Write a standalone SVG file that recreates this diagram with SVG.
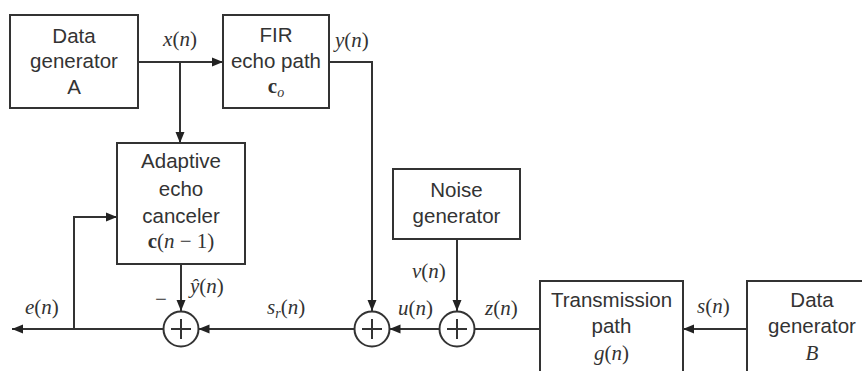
<svg xmlns="http://www.w3.org/2000/svg" width="862" height="371" viewBox="0 0 862 371">
<style>
.box{fill:#fff;stroke:#333;stroke-width:2}
.ln{fill:none;stroke:#333;stroke-width:2}
.arr{marker-end:url(#ah)}
.t{font-family:"Liberation Sans",Arial,sans-serif;font-size:20.5px;fill:#333;text-anchor:middle}
.m{font-family:"Liberation Serif","Times New Roman",serif;font-size:21px;fill:#333;font-style:italic}
.mc{text-anchor:middle}
.b{font-weight:bold;font-style:normal}
.r{font-style:normal}
.sum circle{fill:#fff;stroke:#333;stroke-width:2}
</style>
<defs>
<marker id="ah" markerUnits="userSpaceOnUse" markerWidth="11" markerHeight="10" refX="11" refY="5" orient="auto">
<path d="M0,0.5 L11,5 L0,9.5 z" fill="#222"/>
</marker>
</defs>
<rect width="862" height="371" fill="#fff"/>
<g id="connectors">
<path class="ln arr" d="M138,62 H223"/>
<path class="ln arr" d="M180,62 V143"/>
<path class="ln arr" d="M329,62 H372 V311"/>
<path class="ln arr" d="M181,264 V311"/>
<path class="ln arr" d="M457,239 V311"/>
<path class="ln arr" d="M747,329 H683"/>
<path class="ln" d="M540,329 H474.5"/>
<path class="ln arr" d="M439.5,329 H389.5"/>
<path class="ln arr" d="M354.5,329 H198.5"/>
<path class="ln arr" d="M163.5,329 H12"/>
<path class="ln arr" d="M74,329 V217 H117"/>
</g>
<g id="genA">
<rect class="box" x="10" y="15" width="128" height="93"/>
<text class="t" x="74" y="43">Data</text>
<text class="t" x="74" y="68">generator</text>
<text class="t" x="74" y="94">A</text>
</g>
<g id="fir">
<rect class="box" x="223" y="15" width="106" height="93"/>
<text class="t" x="276" y="42">FIR</text>
<text class="t" x="276" y="68">echo path</text>
<text class="m mc" x="276" y="93"><tspan class="b">c</tspan><tspan font-size="14" dy="4">o</tspan></text>
</g>
<g id="adaptive">
<rect class="box" x="117" y="143" width="128" height="121"/>
<text class="t" x="181" y="168">Adaptive</text>
<text class="t" x="181" y="196">echo</text>
<text class="t" x="181" y="223">canceler</text>
<text class="m mc" x="181" y="248"><tspan class="b">c</tspan><tspan class="r">(</tspan>n<tspan class="r"> − 1)</tspan></text>
</g>
<g id="noise">
<rect class="box" x="393" y="169" width="127" height="70"/>
<text class="t" x="456.5" y="197">Noise</text>
<text class="t" x="456.5" y="223">generator</text>
</g>
<g id="transmission">
<rect class="box" x="540" y="281" width="143" height="100"/>
<text class="t" x="611.5" y="307">Transmission</text>
<text class="t" x="611.5" y="333">path</text>
<text class="m mc" x="611.5" y="360">g<tspan class="r">(</tspan>n<tspan class="r">)</tspan></text>
</g>
<g id="genB">
<rect class="box" x="747" y="281" width="130" height="100"/>
<text class="t" x="812" y="307">Data</text>
<text class="t" x="812" y="333">generator</text>
<text class="m mc" x="812" y="360">B</text>
</g>
<g id="sum1" class="sum">
<circle cx="181" cy="329" r="17.5"/>
<path class="ln" d="M171,329 H191 M181,319 V339"/>
</g>
<g id="sum2" class="sum">
<circle cx="372" cy="329" r="17.5"/>
<path class="ln" d="M362,329 H382 M372,319 V339"/>
</g>
<g id="sum3" class="sum">
<circle cx="457" cy="329" r="17.5"/>
<path class="ln" d="M447,329 H467 M457,319 V339"/>
</g>
<g id="labels">
<text class="m mc" x="180" y="46">x<tspan class="r">(</tspan>n<tspan class="r">)</tspan></text>
<text class="m" x="335" y="47">y<tspan class="r">(</tspan>n<tspan class="r">)</tspan></text>
<text class="m" x="25" y="314">e<tspan class="r">(</tspan>n<tspan class="r">)</tspan></text>
<text class="m" x="190" y="293">ŷ<tspan class="r">(</tspan>n<tspan class="r">)</tspan></text>
<text class="m r mc" x="161" y="306">−</text>
<text class="m" x="267" y="314">s<tspan font-size="14" dy="4">r</tspan><tspan class="r" dy="-4">(</tspan>n<tspan class="r">)</tspan></text>
<text class="m" x="398" y="315">u<tspan class="r">(</tspan>n<tspan class="r">)</tspan></text>
<text class="m" x="412" y="278">v<tspan class="r">(</tspan>n<tspan class="r">)</tspan></text>
<text class="m" x="485" y="315">z<tspan class="r">(</tspan>n<tspan class="r">)</tspan></text>
<text class="m" x="697" y="313">s<tspan class="r">(</tspan>n<tspan class="r">)</tspan></text>
</g>
</svg>
